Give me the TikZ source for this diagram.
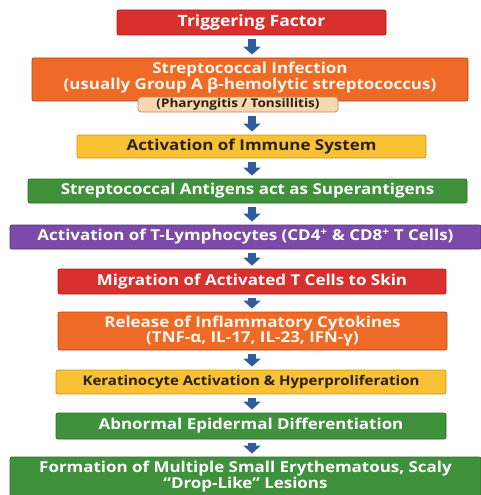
\documentclass[tikz,border=0pt]{standalone}
\usepackage{fontspec}
\setmainfont[FakeStretch=1.13]{Open Sans}
\usetikzlibrary{arrows.meta,calc}
\definecolor{redF}{HTML}{D8302C}
\definecolor{redD}{HTML}{A81E1E}
\definecolor{oraF}{HTML}{EE6A26}
\definecolor{oraD}{HTML}{B9471A}
\definecolor{yelF}{HTML}{F8C234}
\definecolor{yelD}{HTML}{C99320}
\definecolor{greF}{HTML}{3F913B}
\definecolor{greD}{HTML}{2C6B2A}
\definecolor{purF}{HTML}{7C4AA8}
\definecolor{purD}{HTML}{553080}
\definecolor{pillF}{HTML}{F8D8B0}
\definecolor{pillD}{HTML}{B88A5A}
\definecolor{arrB}{HTML}{2F5C9C}
\definecolor{darkT}{HTML}{2A2010}
\definecolor{creamT}{HTML}{FFF6EC}
\tikzset{
  fbox/.style 2 args={rectangle, rounded corners=2pt, fill=#1, draw=#2, line width=0.8pt,
    inner sep=0pt, align=center, text=white,
    font=\bfseries\fontsize{15}{16}\selectfont},
  pillbox/.style={rectangle, rounded corners=3pt, fill=pillF, draw=pillD, line width=0.7pt,
    inner sep=0pt, align=center, text=darkT, font=\bfseries\fontsize{12}{13}\selectfont},
  flow/.style={draw=arrB, line width=8pt, -{Triangle[width=17pt,length=8pt]},
    shorten <=4pt, shorten >=3pt}
}
\begin{document}
\begin{tikzpicture}[x=1pt,y=-1pt]
\useasboundingbox (0,0) rectangle (481,495);
\coordinate (ax) at (252,0);
\node[fbox={redF}{redD}, minimum width=269pt, minimum height=25pt, font=\bfseries\fontsize{15.5}{16}\selectfont] (n1) at (251.5,22.5) {Triggering Factor};
\node[fbox={oraF}{oraD}, text=creamT, minimum width=436pt, minimum height=43pt, font=\bfseries\fontsize{15}{16}\selectfont] (n2) at (250,79.5)
  {Streptococcal Infection\\(usually Group A β-hemolytic streptococcus)\\[-9pt]};
\node[pillbox, minimum width=200pt, minimum height=15pt] (p2) at (238,104.5) {(Pharyngitis / Tonsillitis)};
\node[fbox={yelF}{yelD}, text=darkT, minimum width=349pt, minimum height=23pt] (n3) at (251.5,146.5) {Activation of Immune System};
\node[fbox={greF}{greD}, minimum width=439pt, minimum height=24pt] (n4) at (247.5,191) {Streptococcal Antigens act as Superantigens};
\node[fbox={purF}{purD}, minimum width=471pt, minimum height=24pt] (n5) at (245.5,237) {Activation of T-Lymphocytes (CD4\textsuperscript{+} \& CD8\textsuperscript{+} T Cells)};
\node[fbox={redF}{redD}, minimum width=388pt, minimum height=25pt] (n6) at (252,281.5) {Migration of Activated T Cells to Skin};
\node[fbox={oraF}{oraD}, text=creamT, minimum width=389pt, minimum height=38pt, font=\bfseries\fontsize{15}{15.5}\selectfont] (n7) at (252.5,331) {Release of Inflammatory Cytokines\\(TNF-α, IL-17, IL-23, IFN-γ)};
\node[fbox={yelF}{yelD}, text=darkT, minimum width=390pt, minimum height=24pt, font=\bfseries\fontsize{13.3}{14}\selectfont] (n8) at (251,382) {Keratinocyte Activation \& Hyperproliferation};
\node[fbox={greF}{greD}, minimum width=390pt, minimum height=26pt] (n9) at (251,426) {Abnormal Epidermal Differentiation};
\node[fbox={greF}{greD}, minimum width=471pt, minimum height=40pt, font=\bfseries\fontsize{15}{16}\selectfont] (n10) at (245.5,477) {Formation of Multiple Small Erythematous, Scaly\\“Drop-Like” Lesions};
\draw[flow] (n1.south -| ax) -- (n2.north -| ax);
\draw[flow] (p2.south -| ax) -- (n3.north -| ax);
\draw[flow] (n3.south -| ax) -- (n4.north -| ax);
\draw[flow] (n4.south -| ax) -- (n5.north -| ax);
\draw[flow] (n5.south -| ax) -- (n6.north -| ax);
\draw[flow] (n6.south -| ax) -- (n7.north -| ax);
\draw[flow] (n7.south -| ax) -- (n8.north -| ax);
\draw[flow] (n8.south -| ax) -- (n9.north -| ax);
\draw[flow] (n9.south -| ax) -- (n10.north -| ax);
\end{tikzpicture}
\end{document}
